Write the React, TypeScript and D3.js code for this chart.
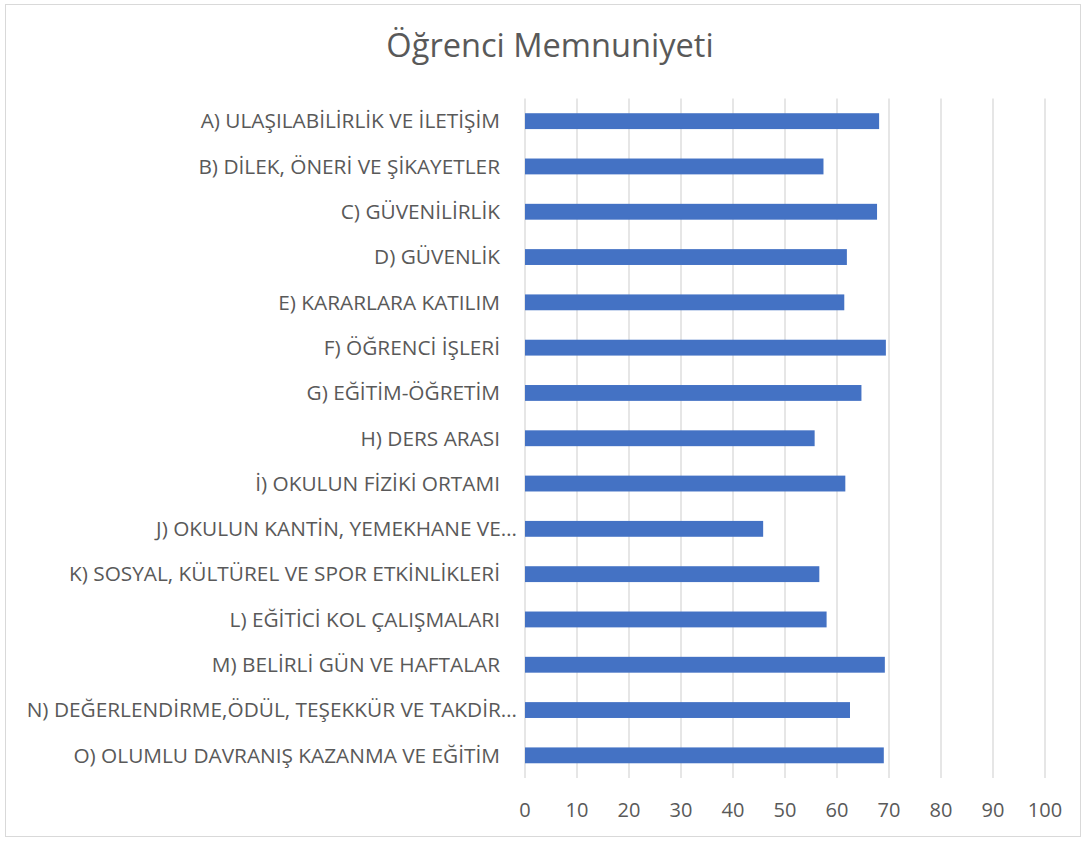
import React, { useEffect, useRef } from "react";
import * as d3 from "d3";

const categories: string[] = [
  "A) ULAŞILABİLİRLİK VE İLETİŞİM",
  "B) DİLEK, ÖNERİ VE ŞİKAYETLER",
  "C) GÜVENİLİRLİK",
  "D) GÜVENLİK",
  "E) KARARLARA KATILIM",
  "F) ÖĞRENCİ İŞLERİ",
  "G) EĞİTİM-ÖĞRETİM",
  "H) DERS ARASI",
  "İ) OKULUN FİZİKİ ORTAMI",
  "J) OKULUN KANTİN, YEMEKHANE VE…",
  "K) SOSYAL, KÜLTÜREL VE SPOR ETKİNLİKLERİ",
  "L) EĞİTİCİ KOL ÇALIŞMALARI",
  "M) BELİRLİ GÜN VE HAFTALAR",
  "N) DEĞERLENDİRME,ÖDÜL, TEŞEKKÜR VE TAKDİR…",
  "O) OLUMLU DAVRANIŞ KAZANMA VE EĞİTİM",
];
const values: number[] = [68.1, 57.4, 67.7, 61.9, 61.4, 69.4, 64.7, 55.7, 61.6, 45.8, 56.6, 58.0, 69.2, 62.5, 69.0];
const ticks: number[] = [0, 10, 20, 30, 40, 50, 60, 70, 80, 90, 100];
const title = "Öğrenci Memnuniyeti";

const W = 1087;
const H = 843;
const FONT = "'Open Sans', sans-serif";

export default function App() {
  const ref = useRef<SVGSVGElement>(null);
  useEffect(() => {
    const svg = d3.select(ref.current);
    svg.selectAll("*").remove();
    const left = 525, right = 1045, top = 98.5, bottom = 778;
    const x = d3.scaleLinear().domain([0, 100]).range([left, right]);
    const y = d3.scaleBand<string>().domain(categories).range([top, bottom]).paddingInner(0.65).paddingOuter(0.325);

    svg.append("rect").attr("x", 5.5).attr("y", 4.5).attr("width", 1075).attr("height", 832)
      .attr("fill", "#fff").attr("stroke", "#d9d9d9").attr("stroke-width", 1);

    svg.append("text").attr("x", 550).attr("y", 57).attr("text-anchor", "middle")
      .attr("font-family", FONT).attr("font-size", 32.6).attr("fill", "#595959").text(title);

    svg.append("g").selectAll("line").data(ticks).join("line")
      .attr("x1", d => x(d)).attr("x2", d => x(d)).attr("y1", top).attr("y2", bottom)
      .attr("stroke", "#d9d9d9").attr("stroke-width", 1.3);

    svg.append("g").selectAll("rect").data(values).join("rect")
      .attr("x", x(0)).attr("y", (_, i) => y(categories[i])!)
      .attr("width", d => x(d) - x(0)).attr("height", y.bandwidth())
      .attr("fill", "#4472c4");

    svg.append("g").selectAll("text").data(categories).join("text")
      .attr("x", d => (d.endsWith("…") ? 517 : 500))
      .attr("y", d => y(d)! + y.bandwidth() / 2)
      .attr("dy", "0.35em").attr("text-anchor", "end")
      .attr("font-family", FONT).attr("font-size", 20.8).attr("fill", "#595959").text(d => d);

    svg.append("g").selectAll("text").data(ticks).join("text")
      .attr("x", d => x(d)).attr("y", 810).attr("dy", "0.35em").attr("text-anchor", "middle")
      .attr("font-family", FONT).attr("font-size", 20).attr("fill", "#595959").text(d => String(d));
  }, []);
  return (
    <svg ref={ref} width={W} height={H} style={{ position: "absolute", left: 0, top: 0, background: "#fff" }} />
  );
}
